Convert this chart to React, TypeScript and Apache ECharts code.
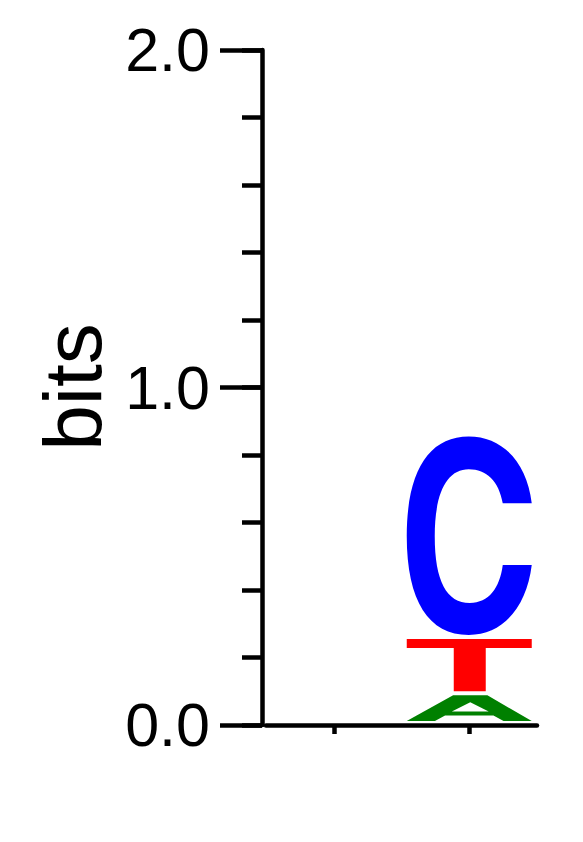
import React, { useEffect, useRef } from 'react';
import * as echarts from 'echarts';

// ---- data ----
const positions = ['1', '2'];
const letters = ['A', 'C', 'G', 'T'];
const letterColors = ['#008000', '#0000FF', '#FFA500', '#FF0000'];
const bitsA = [0, 0.088];
const bitsC = [0, 0.6];
const bitsG = [0, 0];
const bitsT = [0, 0.167];
const yAxisTitle = 'bits';

// glyph outlines (stretched to each letter's box)
const glyphPaths: Record<string, string> = {
  A: 'M0 25L46 0L80 0L124 25L96 25L86 19.7L38 19.7L28 25Z M44.7 15.7L81.3 15.7L63 6.7Z',
  C: 'M125 67C120 25 95 0 62 0C22 0 0 35 0 100C0 165 22 199 62 199C97 199 120 170 125 129L96 129C93 152 82 167 63 167C40 167 28 145 28 100C28 57 40 33 62 33C80 33 92 45 96 67Z',
  G: 'M125 67C120 25 95 0 62 0C22 0 0 35 0 100C0 165 22 199 62 199C80 199 100 190 110 175L112 195L125 195L125 100L66 100L66 126L98 126C95 150 82 167 63 167C40 167 28 145 28 100C28 57 40 33 62 33C80 33 92 45 96 67Z',
  T: 'M0 0H125V9H79V52H47V9H0Z',
};

function buildStacks() {
  const all = [bitsA, bitsC, bitsG, bitsT];
  const items: number[][] = [];
  positions.forEach((_, pi) => {
    const entries = letters
      .map((l, li) => ({ li, h: all[li][pi] }))
      .filter((e) => e.h > 0)
      .sort((a, b) => a.h - b.h);
    let base = 0;
    entries.forEach((e) => {
      items.push([pi, base, base + e.h, e.li]);
      base += e.h;
    });
  });
  return items;
}

export default function App() {
  const ref = useRef<HTMLDivElement>(null);
  useEffect(() => {
    if (!ref.current) return;
    const chart = echarts.init(ref.current, null, { renderer: 'svg' });
    const lw = 4.5;
    const font = '"Liberation Sans", Arial, Helvetica, sans-serif';
    chart.setOption({
      animation: false,
      backgroundColor: '#ffffff',
      grid: { left: 266, right: 46, top: 50, bottom: 117, containLabel: false },
      xAxis: {
        type: 'category',
        data: positions,
        boundaryGap: true,
        axisLine: { show: true, lineStyle: { color: '#000', width: lw } },
        axisTick: { show: true, alignWithLabel: true, length: 9, lineStyle: { color: '#000', width: lw } },
        axisLabel: { show: false },
        splitLine: { show: false },
      },
      yAxis: [
        {
          type: 'value',
          min: 0,
          max: 2,
          interval: 1,
          position: 'left',
          offset: 4,
          axisLine: { show: true, lineStyle: { color: '#000', width: lw } },
          axisTick: { show: true, length: 42, lineStyle: { color: '#000', width: lw } },
          axisLabel: {
            show: true,
            margin: 52,
            fontSize: 61,
            fontFamily: font,
            color: '#000',
            formatter: (v: number) => v.toFixed(1),
          },
          splitLine: { show: false },
        },
        {
          type: 'value',
          min: 0,
          max: 2,
          interval: 0.2,
          position: 'left',
          offset: 4,
          axisLine: { show: false },
          axisTick: { show: true, length: 20, lineStyle: { color: '#000', width: lw } },
          axisLabel: { show: false },
          splitLine: { show: false },
        },
      ],
      graphic: [
        {
          type: 'text',
          x: 72,
          y: 387,
          rotation: Math.PI / 2,
          style: {
            text: yAxisTitle,
            fontSize: 82,
            fontFamily: font,
            fill: '#000',
            align: 'center',
            verticalAlign: 'middle',
          },
        },
      ],
      series: [
        {
          type: 'custom',
          xAxisIndex: 0,
          yAxisIndex: 0,
          encode: { x: 0, y: [1, 2] },
          data: buildStacks(),
          renderItem: (params: any, api: any) => {
            const pos = api.value(0);
            const base = api.value(1);
            const top = api.value(2);
            const li = api.value(3);
            const pBase = api.coord([pos, base]);
            const pTop = api.coord([pos, top]);
            const band = api.size([1, 0])[0];
            const w = band * 0.9225;
            const h = pBase[1] - pTop[1] - 4;
            if (h <= 0) return null;
            const letter = letters[li];
            return {
              type: 'path',
              shape: {
                pathData: glyphPaths[letter],
                x: pTop[0] - w / 2,
                y: pTop[1],
                width: w,
                height: h,
                layout: 'cover',
              },
              style: { fill: letterColors[li], stroke: null },
            };
          },
        },
      ],
    });
    return () => chart.dispose();
  }, []);
  return (
    <div
      ref={ref}
      style={{ position: 'fixed', left: 0, top: 0, width: 583, height: 842, background: '#fff' }}
    />
  );
}
